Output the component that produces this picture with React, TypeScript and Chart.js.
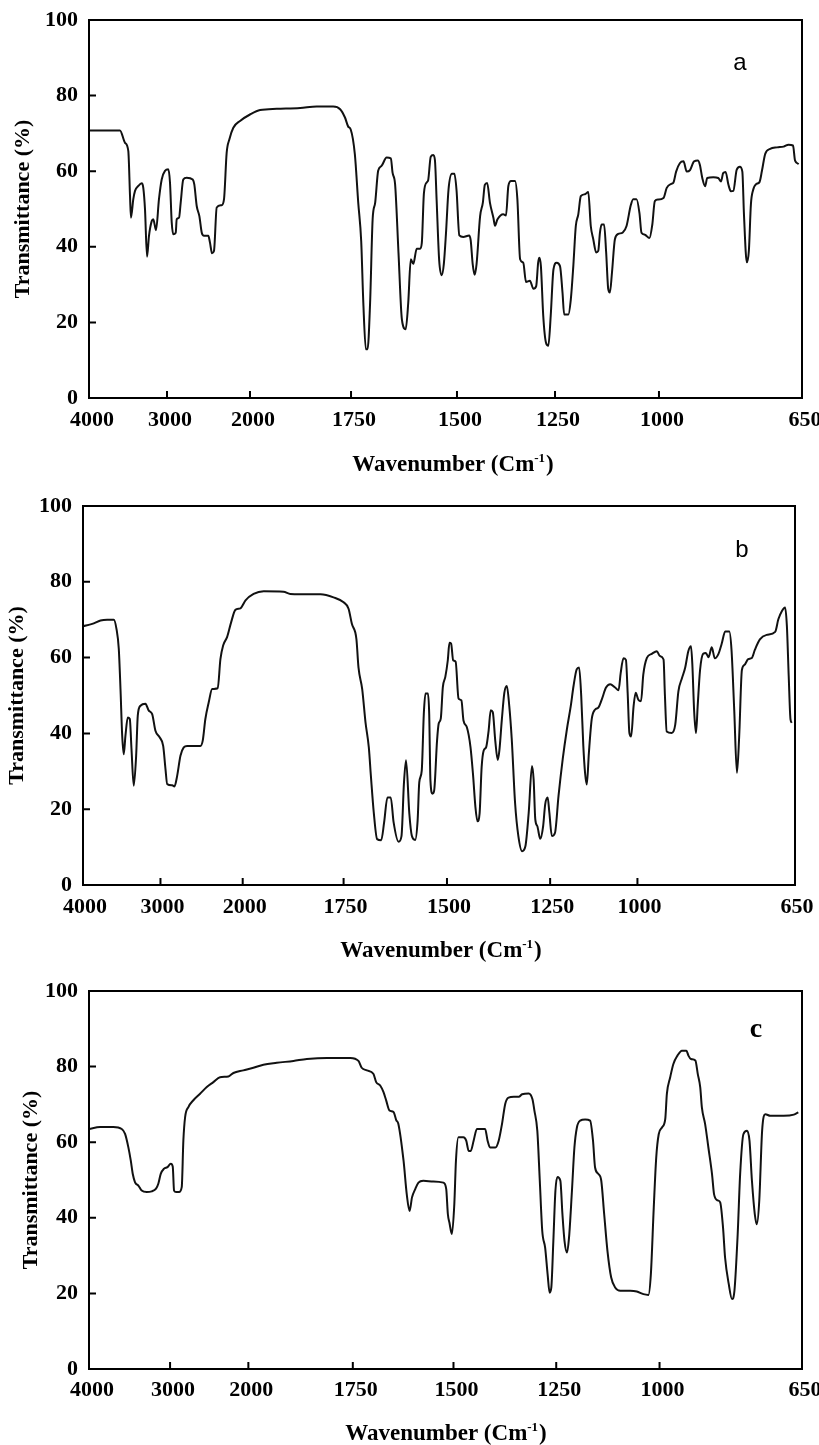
import React, { useEffect, useRef } from 'react';
import { Chart, registerables, LinearScale } from 'chart.js';

Chart.register(...registerables);

// Piecewise-linear wavenumber axis (the printed IR axis changes scale between ticks)
class PiecewiseScale extends LinearScale {
  static id = 'piecewise';
  static defaults = {};
  buildTicks() {
    const w: number[] = (this.options as any).anchorWaves;
    return w.map((v) => ({ value: v }));
  }
  getPixelForValue(value: number) {
    const W: number[] = (this.options as any).anchorWaves;
    const F: number[] = (this.options as any).anchorFracs;
    let f = 0;
    if (value >= W[0]) f = F[0];
    else if (value <= W[W.length - 1]) f = F[F.length - 1];
    else {
      for (let i = 0; i < W.length - 1; i++) {
        if (value <= W[i] && value >= W[i + 1]) {
          f = F[i] + ((W[i] - value) / (W[i] - W[i + 1])) * (F[i + 1] - F[i]);
          break;
        }
      }
    }
    return this.getPixelForDecimal(f);
  }
}
Chart.register(PiecewiseScale as any);

// ---------- tick labels ----------
const X_TICK_WAVES = [4000, 3000, 2000, 1750, 1500, 1250, 1000, 650];
const Y_TICKS = [0, 20, 40, 60, 80, 100];
const Y_MIN = 0;
const Y_MAX = 100;
const Y_STEP = 20;
const Y_TITLE = 'Transmittance (%)';
const X_TITLE_MAIN = 'Wavenumber (Cm';
const X_TITLE_SUP = '-1';
const X_TITLE_END = ')';

// ---------- spectrum a ----------
const A_WAVE = [4000, 3603, 3538, 3496, 3474, 3462, 3432, 3410, 3368, 3324, 3304, 3282, 3256, 3231, 3196, 3176, 3141, 3103, 3068, 3026,
  2984, 2964, 2943, 2924, 2895, 2883, 2855, 2835, 2804, 2763, 2690, 2671, 2642, 2610, 2581, 2554, 2502, 2482, 2458, 2434,
  2401, 2341, 2313, 2281, 2249, 2201, 2120, 2000, 1975, 1934, 1876, 1835, 1794, 1777, 1765, 1757, 1751, 1741, 1733, 1726,
  1721, 1715, 1711, 1705, 1699, 1693, 1686, 1678, 1666, 1656, 1652, 1646, 1638, 1630, 1621, 1615, 1609, 1603, 1595, 1587,
  1583, 1578, 1571, 1568, 1562, 1556, 1552, 1548, 1542, 1536, 1531, 1526, 1520, 1512, 1506, 1501, 1494, 1484, 1469, 1465,
  1460, 1455, 1450, 1441, 1434, 1429, 1423, 1416, 1407, 1403, 1397, 1382, 1375, 1369, 1362, 1352, 1346, 1339, 1331, 1324,
  1314, 1305, 1298, 1293, 1290, 1286, 1280, 1273, 1267, 1261, 1254, 1246, 1238, 1232, 1228, 1218, 1212, 1206, 1200, 1194,
  1188, 1178, 1170, 1164, 1158, 1151, 1146, 1142, 1138, 1132, 1127, 1122, 1118, 1113, 1106, 1098, 1087, 1078, 1068, 1062,
  1054, 1047, 1042, 1034, 1023, 1016, 1010, 1002, 989, 981, 971, 965, 958, 949, 940, 932, 924, 914, 905, 900,
  894, 887, 882, 867, 855, 848, 843, 837, 830, 824, 818, 810, 802, 796, 792, 785, 780, 775, 770, 762,
  754, 748, 740, 728, 711, 695, 683, 672, 667, 658];
const A_T = [70.8, 70.8, 67.5, 65.3, 53.4, 47.7, 52.6, 54.8, 56.1, 56.8, 55.6, 49.9, 37.4, 42.9, 46.8, 47.3, 44.4, 52.6, 57.8, 60.1,
  60.5, 57.0, 46.4, 43.3, 43.7, 47.3, 47.7, 51.7, 57.8, 58.3, 57.8, 56.5, 50.8, 48.1, 43.7, 42.9, 42.9, 41.1, 38.3, 38.9,
  50.4, 51.0, 52.6, 64.9, 68.4, 71.5, 73.3, 75.0, 76.2, 76.5, 76.7, 77.1, 77.1, 76.4, 74.2, 71.8, 71.1, 64.5, 51.7, 41.5,
  25.2, 12.9, 12.9, 25.2, 47.3, 51.7, 60.1, 61.4, 63.6, 63.4, 59.6, 56.5, 38.4, 20.8, 18.2, 25.2, 36.7, 35.5, 39.5, 39.5,
  41.0, 54.2, 57.1, 57.6, 63.8, 64.3, 62.9, 52.3, 36.4, 32.5, 35.5, 43.5, 55.1, 59.3, 59.3, 54.9, 43.0, 42.6, 43.0, 41.7,
  35.5, 32.6, 35.5, 48.1, 51.7, 56.4, 56.9, 51.7, 47.6, 45.6, 47.2, 48.6, 48.3, 56.1, 57.4, 57.4, 52.6, 36.7, 35.8, 30.7,
  31.0, 28.9, 29.6, 35.8, 37.1, 34.9, 21.7, 14.6, 13.8, 21.7, 34.0, 35.8, 34.9, 27.9, 22.1, 22.1, 26.1, 34.9, 45.5, 48.6,
  53.4, 53.9, 54.5, 45.5, 42.0, 38.5, 38.9, 43.7, 45.9, 45.9, 38.5, 28.8, 27.9, 33.2, 42.0, 43.4, 43.8, 45.5, 50.9, 52.6,
  52.6, 49.0, 43.7, 43.2, 42.3, 45.9, 52.1, 52.5, 52.9, 55.6, 56.6, 56.9, 59.9, 62.1, 62.6, 59.9, 60.3, 62.6, 62.8, 61.7,
  58.2, 56.0, 58.2, 58.4, 58.2, 57.3, 59.5, 59.8, 56.4, 54.7, 54.8, 60.3, 61.2, 59.9, 48.5, 35.9, 39.0, 51.3, 54.9, 56.6,
  57.1, 60.1, 64.6, 65.9, 66.3, 66.5, 67.0, 66.8, 62.8, 61.9];

// ---------- spectrum b ----------
const B_WAVE = [4000, 3881, 3774, 3688, 3603, 3568, 3538, 3516, 3494, 3474, 3452, 3422, 3396, 3374, 3345, 3314, 3293, 3258, 3194, 3151,
  3107, 3065, 3009, 2967, 2939, 2918, 2857, 2830, 2797, 2757, 2717, 2676, 2514, 2486, 2454, 2413, 2372, 2304, 2271, 2238,
  2190, 2141, 2089, 2028, 1993, 1973, 1948, 1899, 1882, 1857, 1807, 1775, 1750, 1738, 1730, 1719, 1714, 1705, 1697, 1689,
  1684, 1677, 1669, 1659, 1652, 1644, 1636, 1629, 1617, 1610, 1604, 1599, 1591, 1585, 1577, 1571, 1567, 1561, 1556, 1552,
  1546, 1543, 1540, 1535, 1531, 1524, 1520, 1515, 1510, 1504, 1498, 1494, 1490, 1485, 1479, 1472, 1465, 1460, 1452, 1443,
  1437, 1431, 1426, 1421, 1416, 1411, 1405, 1399, 1394, 1389, 1383, 1377, 1373, 1367, 1361, 1355, 1349, 1343, 1335, 1327,
  1318, 1310, 1302, 1294, 1290, 1286, 1281, 1274, 1267, 1262, 1256, 1252, 1245, 1236, 1226, 1214, 1202, 1191, 1183, 1174,
  1167, 1161, 1155, 1150, 1145, 1139, 1131, 1121, 1112, 1102, 1090, 1078, 1064, 1054, 1048, 1040, 1033, 1028, 1023, 1018,
  1011, 1005, 998, 992, 987, 979, 968, 957, 950, 942, 939, 935, 924, 916, 909, 901, 894, 887, 881, 878,
  874, 870, 866, 861, 854, 848, 842, 835, 828, 820, 813, 805, 796, 791, 785, 779, 774, 768, 762, 754,
  746, 739, 728, 713, 694, 687, 679, 672, 668, 664, 660, 657];
const B_T = [68.3, 68.9, 69.8, 70.0, 70.0, 67.6, 62.3, 51.7, 39.4, 34.5, 39.4, 44.2, 43.8, 35.9, 26.2, 34.1, 44.7, 47.3, 47.8, 46.0,
  45.1, 40.7, 38.9, 36.7, 30.6, 26.6, 26.3, 26.0, 28.8, 34.1, 36.3, 36.7, 36.7, 38.1, 43.8, 48.2, 51.7, 51.9, 59.6, 63.2,
  65.4, 69.3, 72.6, 73.0, 75.1, 76.8, 77.5, 77.4, 76.8, 76.7, 76.7, 75.9, 74.6, 72.9, 68.9, 64.9, 57.4, 51.7, 42.9, 36.3,
  28.8, 19.1, 12.1, 11.8, 16.5, 23.1, 23.1, 16.5, 11.4, 12.9, 27.0, 32.9, 18.8, 13.0, 11.9, 17.0, 27.1, 30.2, 45.2, 50.5,
  50.5, 45.2, 27.6, 24.1, 24.9, 38.1, 42.6, 43.9, 52.2, 54.9, 59.3, 63.9, 63.7, 59.3, 58.9, 49.2, 48.7, 43.4, 41.7, 36.4,
  29.3, 20.5, 16.8, 18.8, 31.1, 35.5, 36.4, 40.8, 46.1, 45.6, 38.1, 33.0, 35.5, 43.7, 50.7, 52.5, 47.2, 38.4, 21.7, 12.9,
  8.9, 10.2, 19.0, 31.4, 27.8, 17.3, 15.5, 12.2, 15.5, 21.3, 23.1, 19.2, 12.9, 13.8, 23.5, 33.2, 41.1, 47.2, 52.5, 56.9,
  57.4, 49.9, 36.7, 29.6, 26.5, 34.9, 43.7, 46.3, 46.8, 49.0, 52.1, 53.0, 52.1, 51.4, 55.9, 59.8, 59.4, 50.7, 40.1, 39.2,
  47.2, 50.7, 48.9, 48.5, 55.5, 59.9, 61.0, 61.7, 60.4, 59.5, 50.2, 40.5, 40.1, 42.3, 51.1, 54.6, 57.3, 61.7, 63.0, 58.1,
  45.8, 40.1, 47.6, 56.6, 61.0, 61.2, 60.1, 62.7, 59.8, 61.0, 63.6, 66.9, 66.9, 62.0, 46.2, 29.6, 39.1, 56.7, 58.1, 59.6,
  59.9, 62.1, 64.8, 66.0, 66.8, 70.1, 72.3, 73.2, 68.3, 55.2, 43.7, 42.8];

// ---------- spectrum c ----------
const C_WAVE = [4000, 3864, 3700, 3596, 3555, 3515, 3485, 3460, 3432, 3391, 3350, 3288, 3226, 3173, 3145, 3115, 3074, 3033, 2991, 2966,
  2949, 2923, 2885, 2851, 2830, 2808, 2766, 2702, 2617, 2531, 2447, 2362, 2255, 2191, 2064, 1988, 1964, 1932, 1892, 1860,
  1812, 1756, 1736, 1728, 1715, 1699, 1692, 1682, 1674, 1667, 1659, 1649, 1642, 1637, 1624, 1616, 1609, 1603, 1595, 1587,
  1575, 1550, 1525, 1518, 1514, 1510, 1504, 1498, 1494, 1488, 1476, 1469, 1463, 1458, 1451, 1443, 1423, 1417, 1411, 1398,
  1390, 1382, 1374, 1366, 1353, 1341, 1333, 1317, 1308, 1303, 1296, 1290, 1284, 1277, 1271, 1266, 1262, 1257, 1252, 1247,
  1240, 1235, 1230, 1224, 1219, 1212, 1206, 1200, 1192, 1180, 1168, 1161, 1156, 1148, 1141, 1134, 1126, 1117, 1107, 1095,
  1071, 1055, 1039, 1027, 1021, 1014, 1008, 1002, 994, 986, 982, 974, 966, 956, 945, 934, 929, 923, 912, 906,
  900, 896, 888, 880, 871, 866, 857, 851, 844, 839, 830, 822, 816, 808, 802, 794, 785, 779, 773, 766,
  761, 755, 748, 740, 728, 695, 670, 659];
const C_T = [63.5, 64.0, 64.0, 63.5, 62.2, 58.7, 55.2, 51.6, 49.4, 48.5, 47.2, 46.8, 47.0, 47.7, 49.0, 51.6, 53.0, 53.4, 54.3, 53.6,
  47.2, 46.8, 46.8, 48.1, 60.5, 66.6, 69.3, 71.1, 72.8, 74.6, 75.9, 77.2, 77.4, 78.3, 79.0, 79.7, 80.5, 81.0, 81.5, 82.0,
  82.3, 82.3, 81.5, 79.7, 79.0, 78.1, 75.9, 75.0, 73.3, 71.0, 68.4, 68.0, 65.8, 64.9, 55.1, 46.2, 41.8, 45.4, 47.6, 49.3,
  49.8, 49.6, 49.3, 47.6, 41.0, 38.7, 35.7, 43.6, 55.1, 61.3, 61.3, 60.4, 57.7, 57.7, 60.4, 63.5, 63.5, 60.4, 58.6, 58.6,
  60.4, 64.8, 70.2, 71.8, 72.0, 72.0, 72.7, 72.9, 71.4, 68.3, 63.0, 49.8, 36.5, 32.1, 25.1, 20.2, 21.5, 33.9, 47.1, 50.8,
  49.8, 41.0, 33.9, 30.8, 34.8, 47.1, 58.6, 63.9, 65.7, 66.0, 65.7, 60.4, 53.3, 51.6, 49.8, 41.0, 31.2, 24.2, 21.5, 20.7,
  20.7, 20.5, 19.8, 19.6, 25.1, 42.7, 56.0, 62.1, 63.9, 66.1, 72.8, 77.1, 80.7, 82.9, 84.2, 84.2, 82.9, 82.0, 81.6, 78.0,
  74.5, 69.2, 64.8, 58.6, 51.5, 46.2, 44.6, 44.1, 37.4, 29.5, 22.5, 18.5, 20.7, 35.7, 51.5, 62.1, 63.0, 60.4, 49.8, 41.0,
  38.3, 44.5, 63.0, 67.4, 67.0, 67.0, 67.3, 67.9];

// ---------- layout (positions / styles) ----------
const SERIF = '"Liberation Serif", "Times New Roman", serif';
const SANS = '"Liberation Sans", Arial, sans-serif';
const TICK_LEN = 7;

type PanelCfg = {
  letter: string;
  wave: number[];
  trans: number[];
  top: number;
  height: number;
  areaLeft: number;
  areaRight: number;
  areaTop: number;
  areaBottom: number;
  fracs: number[];
  yTitlePad: number;
  labelOffset: number;
  xLabelPad: number;
  letterFont: string;
  letterX: number;
  letterY: number;
  xTitleX: number;
  xTitleY: number;
};

const PANELS: PanelCfg[] = [
  {
    letter: 'a', wave: A_WAVE, trans: A_T, top: 0, height: 480,
    areaLeft: 89, areaRight: 802, areaTop: 20, areaBottom: 398,
    fracs: [0, 0.1094, 0.2258, 0.3675, 0.5161, 0.6536, 0.7994, 1],
    yTitlePad: 10, labelOffset: 3, xLabelPad: 9,
    letterFont: `24px ${SANS}`, letterX: 740, letterY: 70,
    xTitleX: 453, xTitleY: 471,
  },
  {
    letter: 'b', wave: B_WAVE, trans: B_T, top: 480, height: 488,
    areaLeft: 83, areaRight: 795, areaTop: 26, areaBottom: 405,
    fracs: [0, 0.1088, 0.2243, 0.366, 0.5112, 0.6561, 0.7787, 1],
    yTitlePad: 4, labelOffset: 2, xLabelPad: 9,
    letterFont: `24px ${SANS}`, letterX: 742, letterY: 77,
    xTitleX: 441, xTitleY: 477,
  },
  {
    letter: 'c', wave: C_WAVE, trans: C_T, top: 968, height: 477,
    areaLeft: 89, areaRight: 802, areaTop: 23, areaBottom: 401,
    fracs: [0, 0.1137, 0.2235, 0.37, 0.5112, 0.6553, 0.8002, 1],
    yTitlePad: 18, labelOffset: 3, xLabelPad: 8,
    letterFont: `bold 28px ${SERIF}`, letterX: 756, letterY: 69,
    xTitleX: 446, xTitleY: 472,
  },
];

function Panel({ cfg }: { cfg: PanelCfg }) {
  const ref = useRef<HTMLCanvasElement>(null);
  useEffect(() => {
    const canvas = ref.current;
    if (!canvas) return;
    const tickFont = { family: SERIF, size: 22, weight: 'bold' as const };
    const gridOpts = { display: false, drawOnChartArea: false, drawTicks: false };
    const decor = {
      id: 'decor' + cfg.letter,
      afterDraw(chart: any) {
        const { ctx, chartArea, scales } = chart;
        const { left, top, right, bottom } = chartArea;
        ctx.save();
        ctx.strokeStyle = '#000';
        ctx.lineWidth = 2;
        ctx.strokeRect(left, top, right - left, bottom - top);
        // inward tick marks
        ctx.beginPath();
        X_TICK_WAVES.forEach((w) => {
          const px = scales.x.getPixelForValue(w);
          ctx.moveTo(px, bottom);
          ctx.lineTo(px, bottom - TICK_LEN);
        });
        Y_TICKS.forEach((v) => {
          const py = scales.y.getPixelForValue(v);
          ctx.moveTo(left, py);
          ctx.lineTo(left + TICK_LEN, py);
        });
        ctx.stroke();
        ctx.fillStyle = '#000';
        ctx.textAlign = 'center';
        ctx.textBaseline = 'alphabetic';
        ctx.font = cfg.letterFont;
        ctx.fillText(cfg.letter, cfg.letterX, cfg.letterY);
        const main = `bold 23px ${SERIF}`;
        const sup = `bold 13px ${SERIF}`;
        ctx.font = main;
        const w1 = ctx.measureText(X_TITLE_MAIN).width;
        const w3 = ctx.measureText(X_TITLE_END).width;
        ctx.font = sup;
        const w2 = ctx.measureText(X_TITLE_SUP).width;
        let x = cfg.xTitleX - (w1 + w2 + w3 + 1) / 2;
        ctx.textAlign = 'left';
        ctx.font = main;
        ctx.fillText(X_TITLE_MAIN, x, cfg.xTitleY);
        x += w1;
        ctx.font = sup;
        ctx.fillText(X_TITLE_SUP, x, cfg.xTitleY - 9);
        x += w2 + 1;
        ctx.font = main;
        ctx.fillText(X_TITLE_END, x, cfg.xTitleY);
        ctx.restore();
      },
    };
    const chart = new Chart(canvas, {
      type: 'line',
      data: {
        datasets: [
          {
            data: cfg.wave.map((w, i) => ({ x: w, y: cfg.trans[i] })),
            borderColor: '#111',
            borderWidth: 2,
            pointRadius: 0,
            fill: false,
            cubicInterpolationMode: 'monotone',
          },
        ],
      },
      options: {
        responsive: false,
        maintainAspectRatio: false,
        animation: false,
        events: [],
        layout: { padding: { left: 0, top: cfg.areaTop, right: 819 - cfg.areaRight, bottom: 0 } },
        plugins: {
          legend: { display: false },
          tooltip: { enabled: false },
          title: { display: false },
        },
        scales: {
          x: {
            type: 'piecewise' as any,
            position: 'bottom',
            min: 650,
            max: 4000,
            anchorWaves: X_TICK_WAVES,
            anchorFracs: cfg.fracs,
            grid: gridOpts,
            border: { display: false },
            ticks: {
              autoSkip: false,
              maxRotation: 0,
              minRotation: 0,
              padding: cfg.xLabelPad,
              labelOffset: cfg.labelOffset,
              color: '#000',
              font: tickFont,
              callback: (v: any) => String(v),
            },
            afterFit: (s: any) => {
              s.height = cfg.height - cfg.areaBottom;
              s.paddingLeft = 0;
              s.paddingRight = 0;
              s.paddingTop = 0;
              s.paddingBottom = 0;
            },
          } as any,
          y: {
            type: 'linear',
            position: 'left',
            min: Y_MIN,
            max: Y_MAX,
            grid: gridOpts,
            border: { display: false },
            ticks: {
              stepSize: Y_STEP,
              padding: 11,
              color: '#000',
              font: tickFont,
              callback: (v: any) => String(v),
            },
            title: {
              display: true,
              text: Y_TITLE,
              color: '#000',
              font: { family: SERIF, size: 22, weight: 'bold' },
              padding: { top: cfg.yTitlePad, bottom: 0 },
            },
            afterFit: (s: any) => {
              s.width = cfg.areaLeft;
              s.paddingLeft = 0;
              s.paddingRight = 0;
              s.paddingTop = 0;
              s.paddingBottom = 0;
            },
          } as any,
        },
      },
      plugins: [decor],
    } as any);
    return () => chart.destroy();
  }, [cfg]);
  return (
    <canvas
      ref={ref}
      width={819}
      height={cfg.height}
      style={{ position: 'absolute', left: 0, top: cfg.top, display: 'block' }}
    />
  );
}

export default function App() {
  return (
    <div style={{ position: 'absolute', left: 0, top: 0, width: 819, height: 1445, background: '#fff', overflow: 'hidden' }}>
      {PANELS.map((p) => (
        <Panel key={p.letter} cfg={p} />
      ))}
    </div>
  );
}
